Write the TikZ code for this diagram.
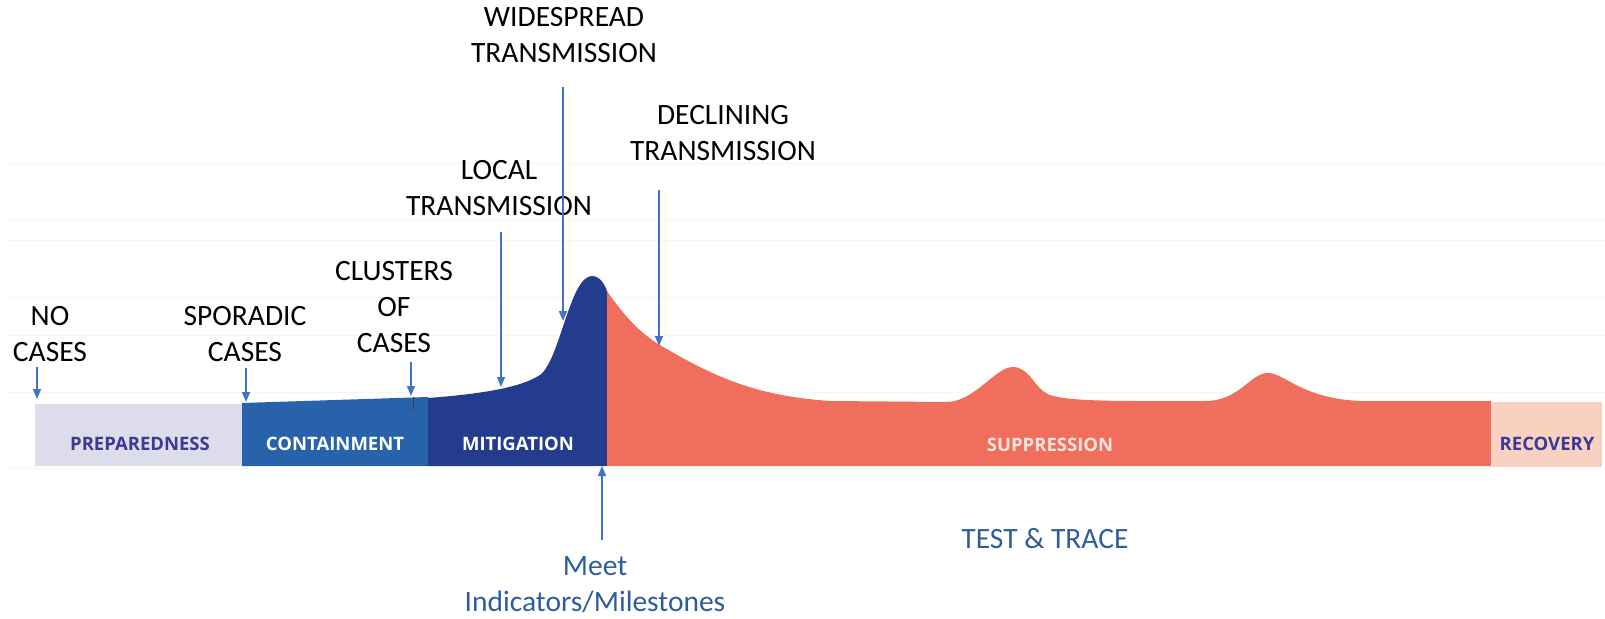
\documentclass[tikz,border=0pt]{standalone}
\usepackage{fontspec}
\setmainfont{Carlito}
\newfontfamily\bandfont{Open Sans}
\usetikzlibrary{arrows.meta}
\definecolor{prepc}{HTML}{DCDCEA}
\definecolor{contc}{HTML}{2862AB}
\definecolor{mitc}{HTML}{233C8E}
\definecolor{supc}{HTML}{EF6F5C}
\definecolor{recc}{HTML}{F9D1C1}
\definecolor{darktxt}{HTML}{3B3B95}
\definecolor{suptxt}{HTML}{FDE3DE}
\definecolor{arrowblue}{HTML}{4472C4}
\definecolor{meetblue}{HTML}{2F5C9E}
\definecolor{gridc}{HTML}{F6F6F6}
\tikzset{
  lbl/.style={align=center, font=\fontsize{29.5}{36}\selectfont, inner sep=0pt, text=black},
  bluelbl/.style={lbl, text=meetblue},
  bandlbl/.style={font=\bandfont\bfseries\fontsize{18.5}{20}\selectfont, inner sep=0pt},
  conn/.style={draw=arrowblue, line width=1.6pt, -{Triangle[length=10pt,width=8pt]}},
  gridline/.style={draw=gridc, line width=1pt}
}
\begin{document}
\begin{tikzpicture}[x=1pt,y=-1pt]
\useasboundingbox (0,0) rectangle (1605,618);
% faint grid lines
\foreach \yy in {163,220,240,297,335,392,468} {
  \draw[gridline] (8,\yy) -- (1605,\yy);
}
% bands
\fill[prepc] (35,404) rectangle (242,466);
\fill[contc] (242,466) -- (242,403) -- (428,397) -- (428,466) -- cycle;
\fill[mitc] (428,466) -- (428,398) .. controls (480,394) and (520,388) .. (540,375)
  .. controls (560,360) and (570,276) .. (592,276)
  .. controls (600,276) and (605,285) .. (607,291) -- (607,466) -- cycle;
\fill[supc] (607,466) -- (607,291) .. controls (630,325) and (650,340) .. (665,348)
  .. controls (720,380) and (760,396) .. (830,401) -- (946,402)
  .. controls (975,402) and (995,367) .. (1013,367)
  .. controls (1030,367) and (1035,390) .. (1050,395)
  .. controls (1065,400) and (1100,401) .. (1140,401) -- (1205,401)
  .. controls (1240,401) and (1250,373) .. (1268,373)
  .. controls (1285,373) and (1300,398) .. (1360,401) -- (1491,401) -- (1491,466) -- cycle;
\fill[recc] (1491,402) rectangle (1602,467);
% small tick
\draw[black!75, line width=0.8pt] (413,397) -- (413,410);
% band labels
\node[bandlbl, text=darktxt] (prep) at (140,444) {PREPAREDNESS};
\node[bandlbl, text=white] (cont) at (335,444) {CONTAINMENT};
\node[bandlbl, text=white] (mit) at (518,444) {MITIGATION};
\node[bandlbl, text=suptxt] (sup) at (1050,445) {SUPPRESSION};
\node[bandlbl, text=darktxt] (rec) at (1547,444) {RECOVERY};
% labels
\node[lbl] (nocases) at (50,334) {NO\\CASES};
\node[lbl] (sporadic) at (245,334) {SPORADIC\\CASES};
\node[lbl] (clusters) at (394,307) {CLUSTERS\\OF\\CASES};
\node[lbl] (local) at (499,188.5) {LOCAL\\TRANSMISSION};
\node[lbl] (wide) at (564,35.5) {WIDESPREAD\\TRANSMISSION};
\node[lbl] (decl) at (723,133.5) {DECLINING\\TRANSMISSION};
\node[bluelbl] (meet) at (595,585) {Meet\\Indicators/Milestones};
\node[bluelbl] (test) at (1045,539) {TEST \& TRACE};
% arrow endpoints
\coordinate (a1s) at (37,367);   \coordinate (a1e) at (37,399);
\coordinate (a2s) at (246,368);  \coordinate (a2e) at (246,402);
\coordinate (a3s) at (411,362);  \coordinate (a3e) at (411,396);
\coordinate (a4s) at (501,232);  \coordinate (a4e) at (501,387);
\coordinate (a5s) at (563,87);   \coordinate (a5e) at (563,321);
\coordinate (a6s) at (659,190);  \coordinate (a6e) at (659,346);
\coordinate (a7s) at (602,540);  \coordinate (a7e) at (602,466);
\draw[conn] (a1s) -- (a1e);
\draw[conn] (a2s) -- (a2e);
\draw[conn] (a3s) -- (a3e);
\draw[conn] (a4s) -- (a4e);
\draw[conn] (a5s) -- (a5e);
\draw[conn] (a6s) -- (a6e);
\draw[conn] (a7s) -- (a7e);
\end{tikzpicture}
\end{document}
